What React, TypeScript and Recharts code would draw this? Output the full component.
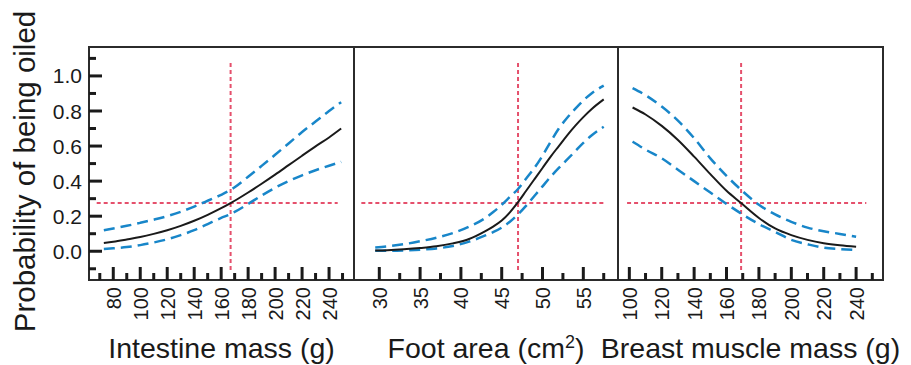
import { LineChart, Line, XAxis, YAxis, ReferenceLine, ReferenceArea } from "recharts";

// Intestine mass (g)
const intestineMass = [73, 80, 90, 100, 110, 120, 130, 140, 150, 160, 167, 170, 180, 190, 200, 210, 220, 230, 240, 249];
const intestineFit = [0.047, 0.054, 0.067, 0.081, 0.099, 0.12, 0.145, 0.174, 0.208, 0.246, 0.275, 0.288, 0.335, 0.385, 0.437, 0.491, 0.545, 0.598, 0.649, 0.7];
const intestineUpper = [0.12, 0.13, 0.145, 0.162, 0.18, 0.2, 0.225, 0.255, 0.288, 0.322, 0.35, 0.365, 0.425, 0.487, 0.55, 0.615, 0.68, 0.74, 0.8, 0.85];
const intestineLower = [0.013, 0.017, 0.024, 0.035, 0.05, 0.068, 0.092, 0.12, 0.155, 0.19, 0.212, 0.224, 0.27, 0.318, 0.362, 0.4, 0.433, 0.462, 0.488, 0.51];

// Foot area (cm2)
const footArea = [29.5, 31, 33, 35, 37, 39, 41, 43, 44, 45, 46, 47, 48, 49, 50, 51, 52, 53, 54, 55, 56, 57.5];
const footFit = [0.004, 0.006, 0.011, 0.018, 0.028, 0.045, 0.07, 0.115, 0.142, 0.175, 0.222, 0.28, 0.345, 0.41, 0.475, 0.54, 0.6, 0.66, 0.715, 0.765, 0.81, 0.866];
const footUpper = [0.022, 0.028, 0.04, 0.057, 0.077, 0.103, 0.14, 0.19, 0.225, 0.265, 0.31, 0.355, 0.415, 0.475, 0.545, 0.625, 0.7, 0.76, 0.812, 0.86, 0.9, 0.945];
const footLower = [0.003, 0.003, 0.005, 0.009, 0.016, 0.03, 0.055, 0.09, 0.11, 0.135, 0.168, 0.21, 0.26, 0.315, 0.37, 0.425, 0.475, 0.522, 0.57, 0.618, 0.66, 0.71];

// Breast muscle mass (g)
const breastMass = [102, 110, 120, 130, 140, 150, 160, 169, 180, 190, 200, 210, 220, 230, 240];
const breastFit = [0.82, 0.78, 0.715, 0.635, 0.54, 0.44, 0.345, 0.275, 0.19, 0.13, 0.092, 0.065, 0.046, 0.034, 0.026];
const breastUpper = [0.93, 0.89, 0.825, 0.745, 0.645, 0.53, 0.43, 0.35, 0.265, 0.21, 0.168, 0.135, 0.114, 0.099, 0.083];
const breastLower = [0.625, 0.58, 0.53, 0.465, 0.4, 0.335, 0.27, 0.215, 0.155, 0.11, 0.065, 0.04, 0.02, 0.012, 0.007];

// ticks
const yTicks = [-0.1, 0, 0.1, 0.2, 0.3, 0.4, 0.5, 0.6, 0.7, 0.8, 0.9, 1, 1.1];
const yLabels = [0, 0.2, 0.4, 0.6, 0.8, 1];
const intestineTicks = [70, 80, 90, 100, 110, 120, 130, 140, 150, 160, 170, 180, 190, 200, 210, 220, 230, 240, 250];
const intestineLabels = [80, 100, 120, 140, 160, 180, 200, 220, 240];
const footTicks = [30, 32.5, 35, 37.5, 40, 42.5, 45, 47.5, 50, 52.5, 55, 57.5];
const footLabels = [30, 35, 40, 45, 50, 55];
const breastTicks = [100, 110, 120, 130, 140, 150, 160, 170, 180, 190, 200, 210, 220, 230, 240, 250];
const breastLabels = [100, 120, 140, 160, 180, 200, 220, 240];

// threshold lines (probability 0.275 and matching trait values)
const oiledProb = 0.275;
const intestineCut = 167;
const footCut = 47;
const breastCut = 169;

const Y_DOMAIN: [number, number] = [-0.164, 1.165];
const V_LINE: [number, number] = [-0.107, 1.076];

const RED = "#e5506c";
const BLUE = "#1886c9";
const INK = "#1a1a1a";
const FRAME = "#2b2b2b";

const toRows = (xs: number[], fit: number[], up: number[], lo: number[]) =>
  xs.map((x, i) => ({ x, fit: fit[i], upper: up[i], lower: lo[i] }));

const XTick = ({ x, y, payload, labels }: any) => {
  const v = payload.value;
  const major = labels.includes(v);
  return (
    <g>
      <line x1={x} y1={y} x2={x} y2={y - (major ? 13 : 7)} stroke={INK} strokeWidth={3} />
      {major && (
        <text transform={`translate(${x + 7.5},${y + 7}) rotate(-90)`} textAnchor="end" fontSize={20} fill={INK}>
          {v}
        </text>
      )}
    </g>
  );
};

const YTick = ({ x, y, payload }: any) => {
  const v = payload.value;
  const major = yLabels.includes(v);
  return (
    <g>
      <line x1={x} y1={y} x2={x + (major ? 13 : 7)} y2={y} stroke={INK} strokeWidth={3} />
      {major && (
        <text x={x - 7} y={y} dy="0.36em" textAnchor="end" fontSize={21} fill={INK}>
          {v.toFixed(1)}
        </text>
      )}
    </g>
  );
};

const XTitle = ({ viewBox, children }: any) => {
  const vb = viewBox || { x: 0, y: 280, width: 0 };
  return (
    <text x={vb.x + vb.width / 2} y={vb.y + 78} textAnchor="middle" fontSize={28.5} fill={INK}>
      {children}
    </text>
  );
};

const YTitle = ({ viewBox }: any) => {
  const vb = viewBox || { x: 0, y: 47 };
  const cx = vb.x + 35;
  const cy = vb.y + 124.5;
  return (
    <text transform={`translate(${cx},${cy}) rotate(-90)`} textAnchor="middle" fontSize={29.5} fill={INK}>
      Probability of being oiled
    </text>
  );
};

type PanelProps = {
  rows: { x: number; fit: number; upper: number; lower: number }[];
  domain: [number, number];
  ticks: number[];
  labels: number[];
  cut: number;
  hFrom: number;
  hTo: number;
  title: any;
  left: number;
  width: number;
  marginLeft: number;
  marginRight: number;
  showY?: boolean;
};

const Panel = (p: PanelProps) => (
  <div style={{ position: "absolute", left: p.left, top: 0 }}>
    <LineChart
      width={p.width}
      height={365}
      data={p.rows}
      margin={{ top: 47, right: p.marginRight, bottom: 0, left: p.marginLeft }}
    >
      <XAxis
        dataKey="x"
        type="number"
        domain={p.domain}
        allowDataOverflow
        ticks={p.ticks}
        interval={0}
        tickSize={0}
        tickMargin={0}
        axisLine={false}
        tickLine={false}
        height={85}
        tick={(tp: any) => <XTick {...tp} labels={p.labels} />}
        label={<XTitle>{p.title}</XTitle>}
      />
      {p.showY ? (
        <YAxis
          type="number"
          domain={Y_DOMAIN}
          allowDataOverflow
          ticks={yTicks}
          interval={0}
          tickSize={0}
          tickMargin={0}
          axisLine={false}
          tickLine={false}
          width={89}
          tick={(tp: any) => <YTick {...tp} />}
          label={<YTitle />}
        />
      ) : (
        <YAxis type="number" domain={Y_DOMAIN} allowDataOverflow hide />
      )}
      <ReferenceLine
        segment={[
          { x: p.hFrom, y: oiledProb },
          { x: p.hTo, y: oiledProb },
        ]}
        stroke={RED}
        strokeWidth={2}
        strokeDasharray="4 3"
      />
      <ReferenceLine
        segment={[
          { x: p.cut, y: V_LINE[0] },
          { x: p.cut, y: V_LINE[1] },
        ]}
        stroke={RED}
        strokeWidth={2}
        strokeDasharray="4 3"
      />
      <Line dataKey="upper" type="monotone" stroke={BLUE} strokeWidth={2.5} strokeDasharray="11 6" dot={false} isAnimationActive={false} />
      <Line dataKey="lower" type="monotone" stroke={BLUE} strokeWidth={2.5} strokeDasharray="11 6" dot={false} isAnimationActive={false} />
      <Line dataKey="fit" type="monotone" stroke={INK} strokeWidth={2} dot={false} isAnimationActive={false} />
      <ReferenceArea
        x1={p.domain[0]}
        x2={p.domain[1]}
        y1={Y_DOMAIN[0]}
        y2={Y_DOMAIN[1]}
        fill="none"
        fillOpacity={0}
        stroke={FRAME}
        strokeWidth={2}
        ifOverflow="visible"
      />
    </LineChart>
  </div>
);

export default function App() {
  return (
    <div
      style={{
        position: "absolute",
        left: 0,
        top: 0,
        width: 911,
        height: 365,
        background: "#fff",
        fontFamily: '"Liberation Sans", Arial, Helvetica, sans-serif',
        overflow: "hidden",
      }}
    >
      <Panel
        rows={toRows(intestineMass, intestineFit, intestineUpper, intestineLower)}
        domain={[62, 258.5]}
        ticks={intestineTicks}
        labels={intestineLabels}
        cut={intestineCut}
        hFrom={67.7}
        hTo={246.4}
        title="Intestine mass (g)"
        left={0}
        width={360}
        marginLeft={0}
        marginRight={6}
        showY
      />
      <Panel
        rows={toRows(footArea, footFit, footUpper, footLower)}
        domain={[26.9, 59.25]}
        ticks={footTicks}
        labels={footLabels}
        cut={footCut}
        hFrom={27.8}
        hTo={57.5}
        title={
          <>
            Foot area (cm
            <tspan dy={-10} fontSize={18}>2</tspan>
            <tspan dy={10}>)</tspan>
          </>
        }
        left={348}
        width={276}
        marginLeft={6}
        marginRight={6}
      />
      <Panel
        rows={toRows(breastMass, breastFit, breastUpper, breastLower)}
        domain={[93, 256.6]}
        ticks={breastTicks}
        labels={breastLabels}
        cut={breastCut}
        hFrom={98.6}
        hTo={246.3}
        title="Breast muscle mass (g)"
        left={590}
        width={313}
        marginLeft={28}
        marginRight={20}
      />
    </div>
  );
}
